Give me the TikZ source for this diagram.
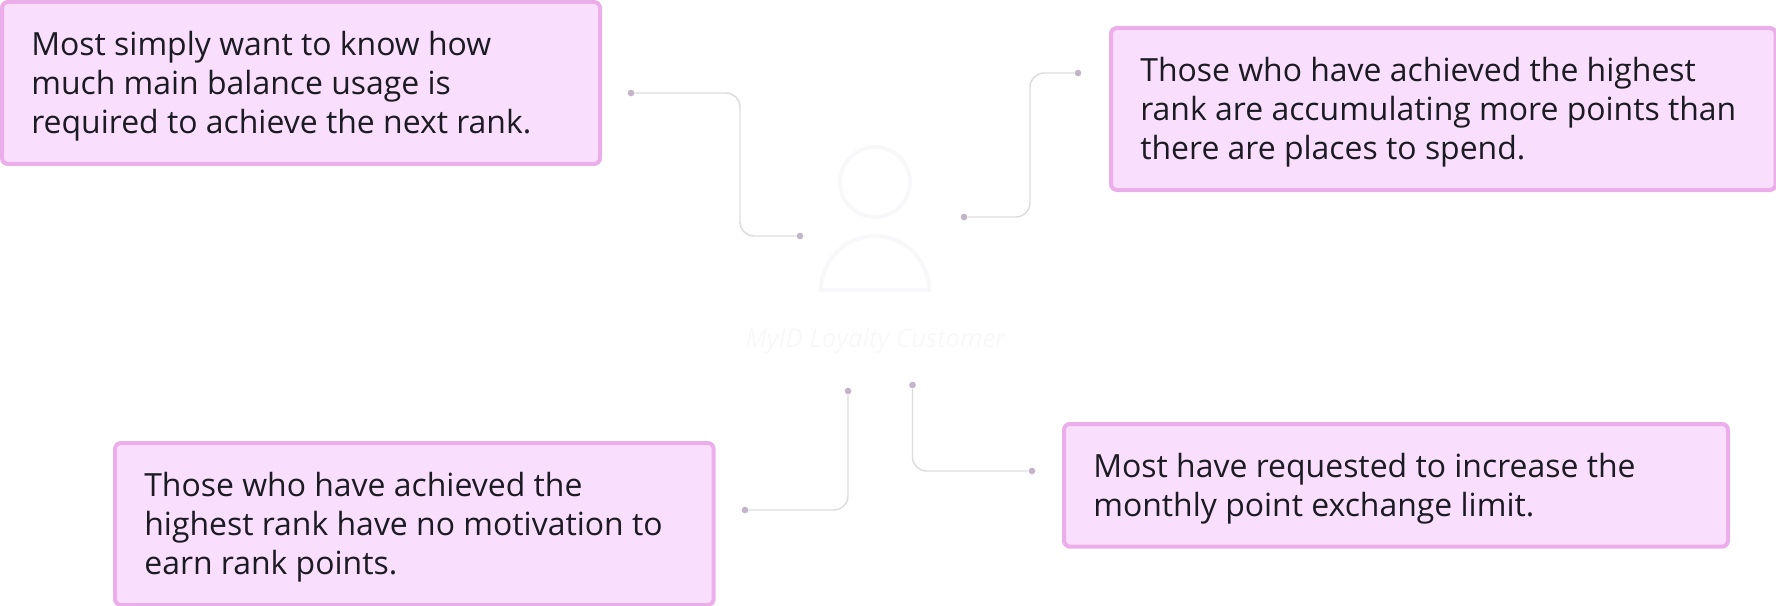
\documentclass[tikz,border=0pt]{standalone}
\usepackage{fontspec}
\setmainfont{Open Sans}
\definecolor{boxfill}{HTML}{F9DFFD}
\definecolor{boxline}{HTML}{EBAEEB}
\definecolor{ink}{HTML}{1C1A22}
\definecolor{wire}{HTML}{DEDBE0}
\definecolor{dotc}{HTML}{C4B4CA}
\definecolor{ghost}{HTML}{F8F8FA}
\newcommand{\calloutfont}{\fontsize{23.95pt}{29.5pt}\selectfont}
\tikzset{
  x=0.75pt,y=-0.75pt,
  callout/.style={draw=boxline,fill=boxfill,line width=3pt,rounded corners=4.5pt,outer sep=0pt,
    inner sep=0pt,anchor=north west},
  callouttext/.style={inner sep=0pt,align=left,text=ink,anchor=west,font=\calloutfont,xshift=21.8pt,yshift=-2.5pt},
  wirepath/.style={draw=wire,line width=1.1pt,rounded corners=10.5pt},
  endpoint/.style={circle,fill=dotc,draw=none,inner sep=0pt,minimum size=5pt},
  ghostline/.style={draw=ghost,line width=3pt},
}
\begin{document}
\begin{tikzpicture}
\useasboundingbox (0,0) rectangle (1776,606);
% person
\draw[ghostline] (875,182) circle[radius=35];
\draw[ghostline] (821,290) arc[start angle=180,delta angle=180,radius=54] -- cycle;
\node[text=ghost,font=\itshape\fontsize{19.3pt}{21pt}\selectfont,anchor=base] (lbl) at (875.5,347) {MyID Loyalty Customer};
% boxes
\node[callout,minimum width=448.5pt,minimum height=121.5pt] (b1) at (2,2) {};
\node[callouttext] (t1) at (b1.west)
 {Most simply want to know how\\much main balance usage is\\required to achieve the next rank.};
\node[callout,minimum width=498.5pt,minimum height=121.5pt] (b2) at (1111,28) {};
\node[callouttext] (t2) at (b2.west)
 {Those who have achieved the highest\\rank are accumulating more points than\\there are places to spend.};
\node[callout,minimum width=449pt,minimum height=121.5pt] (b3) at (115,443) {};
\node[callouttext] (t3) at (b3.west)
 {Those who have achieved the\\highest rank have no motivation to\\earn rank points.};
\node[callout,minimum width=498pt,minimum height=92pt] (b4) at (1064,424) {};
\node[callouttext] (t4) at (b4.west)
 {Most have requested to increase the\\monthly point exchange limit.};
% connector ends
\node[endpoint] (a1) at (631,93) {};
\node[endpoint] (a2) at (800,236) {};
\coordinate (am) at (740,160);
\node[endpoint] (c1) at (964,217) {};
\node[endpoint] (c2) at (1078,73) {};
\coordinate (cm) at (1030,150);
\node[endpoint] (d1) at (745,510) {};
\node[endpoint] (d2) at (848,391) {};
\node[endpoint] (e1) at (912.5,385) {};
\node[endpoint] (e2) at (1032,471) {};
% connectors
\draw[wirepath] (a1) -| (am) |- (a2);
\draw[wirepath] (c1) -| (cm) |- (c2);
\draw[wirepath] (d1) -| (d2);
\draw[wirepath] (e1) |- (e2);
\end{tikzpicture}
\end{document}
